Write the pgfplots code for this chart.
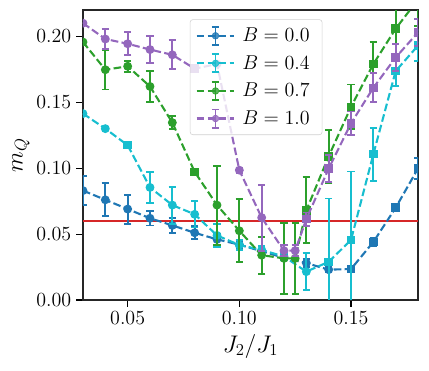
\documentclass[border=0pt]{standalone}
\usepackage{pgfplots}
\pgfplotsset{compat=1.18}
\usepackage{pgfplotstable}
\usetikzlibrary{calc}
\definecolor{tblue}{RGB}{31,119,180}
\definecolor{tcyan}{RGB}{23,190,207}
\definecolor{tgreen}{RGB}{44,160,44}
\definecolor{tpurple}{RGB}{148,103,189}
\definecolor{tred}{RGB}{214,39,40}

% x  y  err  marker (c = circle, s = square)
\pgfplotstableread{
x     y      e       m
0.03  0.083  0.011   c
0.04  0.076  0.0125  c
0.05  0.069  0.011   c
0.06  0.062  0.0055  c
0.07  0.0566 0.0057  c
0.08  0.051  0.005   c
0.09  0.046  0.004   c
0.10  0.042  0.003   c
0.11  0.037  0.002   c
0.12  0.032  0.002   c
0.13  0.028  0.003   c
0.14  0.023  0.002   c
0.15  0.0235 0.002   s
0.16  0.044  0.003   s
0.17  0.070  0.002   s
0.18  0.0998 0.008   s
}\tblzero
\pgfplotstableread{
x     y      e       m
0.03  0.1414 0       c
0.04  0.130  0       c
0.05  0.1174 0       s
0.06  0.0854 0.012   c
0.07  0.072  0.014   c
0.08  0.065  0.010   c
0.09  0.049  0.009   c
0.10  0.0417 0.004   c
0.11  0.038  0.003   c
0.12  0.033  0.003   c
0.13  0.0215 0.014   c
0.14  0.029  0.048   s
0.15  0.0455 0.052   s
0.16  0.1106 0.020   s
0.17  0.1737 0.011   s
0.18  0.193  0.012   s
}\tblfour
\pgfplotstableread{
x     y      e       m
0.03  0.1957 0       c
0.04  0.1747 0.015   c
0.05  0.1773 0.004   c
0.06  0.162  0.012   c
0.07  0.1346 0.005   c
0.08  0.0972 0.001   s
0.09  0.072  0.030   c
0.10  0.0525 0.024   c
0.11  0.034  0.014   c
0.12  0.0316 0.027   c
0.125 0.0316 0.027   c
0.13  0.068  0.025   s
0.14  0.109  0.020   s
0.15  0.1465 0.017   s
0.16  0.179  0.017   s
0.17  0.2058 0.020   s
0.18  0.228  0.020   s
}\tblseven
\pgfplotstableread{
x     y      e       m
0.03  0.210  0       c
0.04  0.198  0.0076  c
0.05  0.1944 0.0086  c
0.06  0.190  0.010   c
0.07  0.186  0.011   c
0.08  0.1755 0       s
0.09  0.179  0       c
0.10  0.0985 0.002   c
0.11  0.0625 0.025   c
0.12  0.0374 0.004   c
0.125 0.0374 0.004   c
0.13  0.0614 0.005   s
0.14  0.0997 0.010   s
0.15  0.134  0.009   s
0.16  0.161  0.011   s
0.17  0.184  0.010   s
0.18  0.203  0.010   s
}\tblone

\pgfplotsset{
  ser/.style={
    #1, line width=1.5pt, dash pattern=on 5.5pt off 2.4pt,
    scatter, point meta=explicit symbolic,
    scatter/classes={
      c={mark=*, mark size=2.4pt, #1, solid},
      s={mark=square*, mark size=2.3pt, #1, solid}},
    error bars/y dir=both, error bars/y explicit,
    error bars/error bar style={solid, line width=1.4pt, #1},
    error bars/error mark options={rotate=90, mark size=2.6pt, line width=1.4pt, #1, solid}
  },
  legimg/.style={legend image code/.code={
    \draw[#1, line width=1.5pt, dash pattern=on 5.5pt off 2.4pt] (0pt,0pt) -- (27pt,0pt);
    \draw[#1, line width=1.4pt] (13.5pt,-6.5pt) -- (13.5pt,6.5pt) (10.9pt,-6.5pt) -- (16.1pt,-6.5pt) (10.9pt,6.5pt) -- (16.1pt,6.5pt);
    \fill[#1] (13.5pt,0pt) circle (2.4pt);
  }},
}

\begin{document}
\begin{tikzpicture}
\begin{axis}[
  scale only axis, width=241pt, height=208.6pt,
  xmin=0.03, xmax=0.18, ymin=0, ymax=0.22,
  xtick={0.05,0.10,0.15}, ytick={0,0.05,0.10,0.15,0.20},
  scaled ticks=false,
  xticklabel style={/pgf/number format/fixed, /pgf/number format/fixed zerofill, /pgf/number format/precision=2},
  yticklabel style={/pgf/number format/fixed, /pgf/number format/fixed zerofill, /pgf/number format/precision=2},
  tick label style={font=\fontsize{14}{16}\selectfont},
  label style={font=\fontsize{17}{19}\selectfont},
  xlabel={$J_2/J_1$}, ylabel={$m_Q$},
  ylabel style={yshift=-2pt},
  tick align=outside, xtick pos=bottom, ytick pos=left,
  major tick length=5pt, tick style={black, line width=0.8pt},
  axis line style={line width=0.8pt, black!85},
  clip marker paths=true,
  legend style={at={(0.319,0.968)}, anchor=north west, draw=black!18, rounded corners=2pt,
    fill=white, fill opacity=0.8, text opacity=1, font=\fontsize{14}{16}\selectfont,
    row sep=4.5pt, inner xsep=4pt, inner ysep=4pt,
    nodes={inner xsep=5pt}},
  legend cell align=left,
]
\addplot[tred, line width=1.5pt, forget plot] coordinates {(0.03,0.06) (0.18,0.06)};

\addplot[ser=tblue, forget plot] table[x=x, y=y, y error=e, meta=m] {\tblzero};
\addplot[ser=tcyan, forget plot] table[x=x, y=y, y error=e, meta=m] {\tblfour};
\addplot[ser=tgreen, forget plot] table[x=x, y=y, y error=e, meta=m] {\tblseven};
\addplot[ser=tpurple, forget plot] table[x=x, y=y, y error=e, meta=m] {\tblone};

\addlegendimage{legimg=tblue}
\addlegendentry{$B = 0.0$}
\addlegendimage{legimg=tcyan}
\addlegendentry{$B = 0.4$}
\addlegendimage{legimg=tgreen}
\addlegendentry{$B = 0.7$}
\addlegendimage{legimg=tpurple}
\addlegendentry{$B = 1.0$}
\end{axis}
\path ($(current axis.south west)+(-59.7pt,-50.4pt)$) rectangle ($(current axis.north east)+(7.9pt,7.2pt)$);
\end{tikzpicture}
\end{document}
